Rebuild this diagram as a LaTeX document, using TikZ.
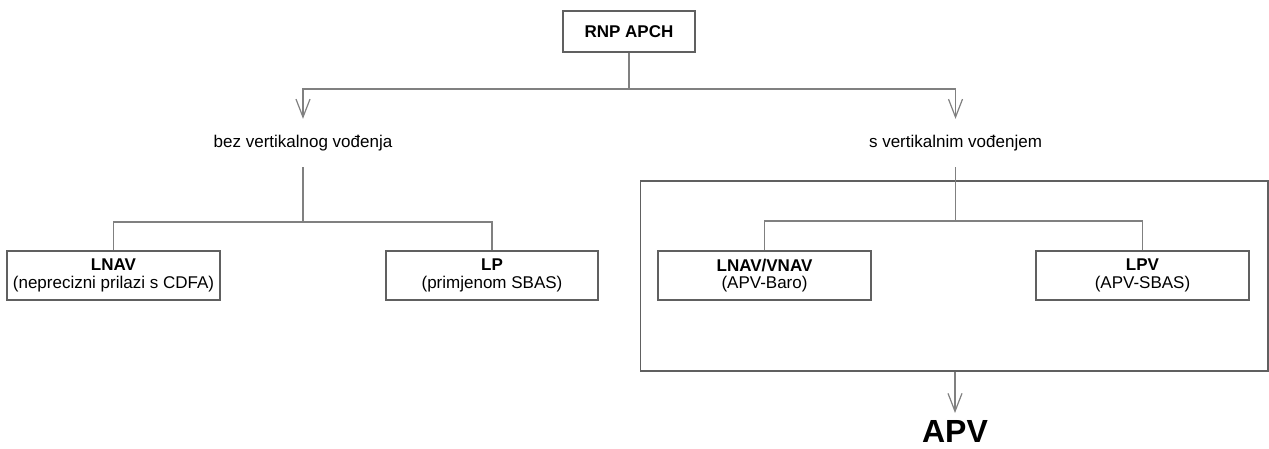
\documentclass[tikz,border=0pt]{standalone}
\usepackage{fontspec}
\setmainfont{Liberation Sans}
\usetikzlibrary{arrows.meta}
\definecolor{linegray}{HTML}{808080}
\definecolor{boxgray}{HTML}{606060}
\begin{document}
\begin{tikzpicture}[x=1pt,y=-1pt,
  every node/.style={font=\fontsize{17}{17.5}\selectfont, align=center},
  box/.style={draw=boxgray, line width=1.6pt, rectangle, inner sep=0pt,
    minimum width=213pt, minimum height=49pt},
  lbl/.style={inner sep=0pt, minimum height=48pt},
  conn/.style={draw=linegray, line width=1.2pt},
  arr/.style={conn, -{Straight Barb[length=18pt,width=14pt,line width=1.2pt]}}
]
\useasboundingbox (0,0) rectangle (1269,448);

% top node
\node[box, minimum width=132pt, minimum height=41pt] (rnp) at (629,31.5) {\bfseries RNP APCH};
\coordinate (top) at (629,89);

% level labels
\node[lbl] (bez) at (303,143) {bez vertikalnog vođenja};
\node[lbl] (svert) at (955.5,143) {s vertikalnim vođenjem};

% group frame
\node[draw=boxgray, line width=1.6pt, rectangle, inner sep=0pt,
      minimum width=627.5pt, minimum height=190pt] (grp) at (954.25,276) {};

% leaf boxes
\node[box] (lnav) at (113.5,275.5) {\bfseries LNAV\\(neprecizni prilazi s CDFA)};
\node[box, minimum width=212pt] (lp) at (492,275.5) {\bfseries LP\\(primjenom SBAS)};
\node[box] (lnavvnav) at (764.5,275.5) {\bfseries LNAV/VNAV\\(APV-Baro)};
\node[box] (lpv) at (1142.5,275.5) {\bfseries LPV\\(APV-SBAS)};

% result
\node[inner sep=7pt, anchor=north, font=\fontsize{32}{32}\selectfont\bfseries] (apv) at (955,413) {APV};

% junctions
\coordinate (jl) at (303,222);
\coordinate (jr) at (955.5,221);

% connectors
\draw[conn] (rnp) -- (top);
\draw[arr] (top) -| (bez);
\draw[arr] (top) -| (svert);
\draw[conn] (bez) -- (jl);
\draw[conn] (lnav) |- (jl) -| (lp);
\draw[conn] (svert) -- (jr);
\draw[conn] (lnavvnav) |- (jr) -| (lpv);
\draw[arr] (grp.south -| apv.north) -- (apv.north);
\end{tikzpicture}
\end{document}
